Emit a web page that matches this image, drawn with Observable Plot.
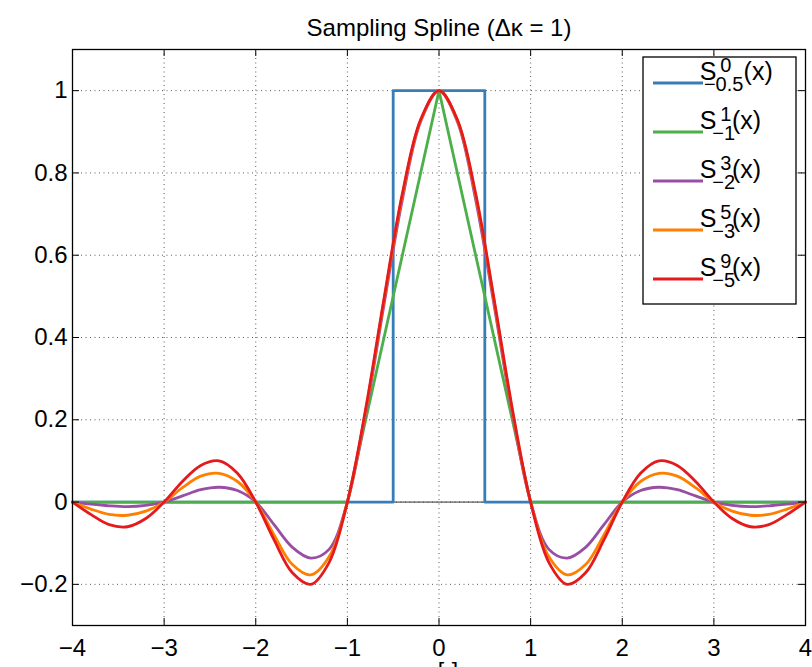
<!DOCTYPE html>
<html><head><meta charset="utf-8">
<script src="https://cdn.jsdelivr.net/npm/d3@7"></script>
<script src="https://cdn.jsdelivr.net/npm/@observablehq/plot@0.6"></script>
<style>
body{margin:0;background:#fff;overflow:hidden}
svg{font-family:"Liberation Sans",Arial,Helvetica,sans-serif}
</style>
</head><body><div id="chart"></div>
<script>
// ---- data ----
const titleText = "Sampling Spline (\u0394\u03BA = 1)";
const xLabelText = "x [-]";
const xTicks = [-4,-3,-2,-1,0,1,2,3,4];
const xTickLabels = ["\u22124","\u22123","\u22122","\u22121","0","1","2","3","4"];
const yTicks = [-0.2,0,0.2,0.4,0.6,0.8,1];
const yTickLabels = ["\u22120.2","0","0.2","0.4","0.6","0.8","1"];

const boxX = [-4,-0.5,-0.5,0.5,0.5,4];
const boxY = [0,0,1,1,0,0];
const hatX = [-4,-1,0,1,4];
const hatY = [0,0,1,0,0];

const sx = [-4.0,-3.8,-3.6,-3.4,-3.2,-3.0,-2.8,-2.6,-2.4,-2.2,-2.0,-1.8,-1.6,-1.4,-1.2,-1.0,-0.8,-0.6,-0.4,-0.2,
            0,0.2,0.4,0.6,0.8,1.0,1.2,1.4,1.6,1.8,2.0,2.2,2.4,2.6,2.8,3.0,3.2,3.4,3.6,3.8,4.0];
const s3 = [0,-0.005,-0.009,-0.011,-0.008,0,0.015,0.03,0.036,0.028,0,-0.055,-0.11,-0.136,-0.115,0,0.215,0.48,0.735,0.925,
            1,0.925,0.735,0.48,0.215,0,-0.115,-0.136,-0.11,-0.055,0,0.028,0.036,0.03,0.015,0,-0.008,-0.011,-0.009,-0.005,0];
const s5 = [0,-0.017,-0.03,-0.032,-0.022,0,0.035,0.063,0.07,0.05,0,-0.08,-0.152,-0.177,-0.133,0,0.222,0.49,0.745,0.928,
            1,0.928,0.745,0.49,0.222,0,-0.133,-0.177,-0.152,-0.08,0,0.05,0.07,0.063,0.035,0,-0.022,-0.032,-0.03,-0.017,0];
const s9 = [0,-0.03,-0.055,-0.06,-0.04,0,0.05,0.089,0.1,0.07,0,-0.092,-0.172,-0.2,-0.147,0,0.227,0.495,0.75,0.93,
            1,0.93,0.75,0.495,0.227,0,-0.147,-0.2,-0.172,-0.092,0,0.07,0.1,0.089,0.05,0,-0.04,-0.06,-0.055,-0.03,0];

const seriesNames = ["S0","S1","S3","S5","S9"];
const seriesColors = ["#377eb8","#4daf4a","#984ea3","#ff7f00","#e41a1c"];
const legendSup = ["0","1","3","5","9"];
const legendSub = ["\u22120.5","\u22121","\u22122","\u22123","\u22125"];

// ---- build tables ----
const toRows = (xa, ya, name) => xa.map((x, i) => ({x, y: ya[i], name}));
const rows0 = toRows(boxX, boxY, "S0");
const rows1 = toRows(hatX, hatY, "S1");
const rows3 = toRows(sx, s3, "S3");
const rows5 = toRows(sx, s5, "S5");
const rows9 = toRows(sx, s9, "S9");

const W = 812, H = 667, mT = 49, mB = 42, mL = 72, mR = 7;
const plotH = H - mT - mB, plotW = W - mL - mR;
const tickLen = 7;
const xFmt = new Map(xTicks.map((d, i) => [d, xTickLabels[i]]));
const yFmt = new Map(yTicks.map((d, i) => [d, yTickLabels[i]]));
const gridDash = {stroke: "#000", strokeOpacity: 0.65, strokeDasharray: "1,3.5", strokeWidth: 1};
const lineOpts = {x: "x", y: "y", stroke: "name", strokeWidth: 2.8};

const chart = Plot.plot({
  width: W, height: H,
  marginTop: mT, marginBottom: mB, marginLeft: mL, marginRight: mR,
  style: {fontFamily: '"Liberation Sans", Arial, sans-serif', background: "#fff"},
  x: {domain: [-4, 4], label: null},
  y: {domain: [-0.3, 1.1], label: null},
  color: {domain: seriesNames, range: seriesColors},
  marks: [
    Plot.gridX(xTicks.slice(1, -1), gridDash),
    Plot.gridY(yTicks, gridDash),
    Plot.ruleY([0], {stroke: "#333", strokeWidth: 1}),
    Plot.line(rows0, lineOpts),
    Plot.line(rows1, lineOpts),
    Plot.line(rows3, {...lineOpts, curve: "catmull-rom"}),
    Plot.line(rows5, {...lineOpts, curve: "catmull-rom"}),
    Plot.line(rows9, {...lineOpts, curve: "catmull-rom"}),
    Plot.tickX(xTicks, {x: d => d, insetTop: plotH - tickLen, stroke: "#000"}),
    Plot.tickX(xTicks, {x: d => d, insetBottom: plotH - tickLen, stroke: "#000"}),
    Plot.tickY(yTicks, {y: d => d, insetRight: plotW - tickLen, stroke: "#000"}),
    Plot.tickY(yTicks, {y: d => d, insetLeft: plotW - tickLen, stroke: "#000"}),
    Plot.axisX(xTicks, {tickSize: 0, tickPadding: 13, fontSize: 24, tickFormat: d => xFmt.get(d), label: null, fill: "#000"}),
    Plot.axisY(yTicks, {tickSize: 0, tickPadding: 5, fontSize: 24, tickFormat: d => yFmt.get(d), label: null, fill: "#000"}),
    Plot.frame({stroke: "#000", strokeWidth: 1.3}),
    Plot.text([titleText], {frameAnchor: "top", dy: -14, lineAnchor: "bottom", fontSize: 24, fill: "#000"}),
    Plot.text([xLabelText], {frameAnchor: "bottom", dy: 54, lineAnchor: "bottom", fontSize: 23, fill: "#000"})
  ]
});
document.getElementById("chart").append(chart);

// ---- legend (inside plot, top right) ----
const svg = d3.select(chart);
const lg = svg.append("g").attr("font-family", '"Liberation Sans", Arial, sans-serif').attr("fill", "#000");
const box = {x: 643, y: 57, w: 153, h: 247};
lg.append("rect").attr("x", box.x).attr("y", box.y).attr("width", box.w).attr("height", box.h)
  .attr("fill", "#fff").attr("stroke", "#000").attr("stroke-width", 1.3);
seriesNames.forEach((name, i) => {
  const cy = 83 + i * 49;
  lg.append("line").attr("x1", 653).attr("x2", 703).attr("y1", cy).attr("y2", cy)
    .attr("stroke", seriesColors[i]).attr("stroke-width", 3);
  const s = lg.append("text").attr("x", 708).attr("y", cy - 3).attr("font-size", 25).text("S");
  const sxp = 708 + s.node().getComputedTextLength() + 1;
  const sup = lg.append("text").attr("x", sxp).attr("y", cy - 11).attr("font-size", 20).text(legendSup[i]);
  const sub = lg.append("text").attr("x", sxp - 2).attr("y", cy + 8).attr("font-size", 20).text(legendSub[i]);
  const supW = sup.node().getComputedTextLength();
  const subW = sub.node().getComputedTextLength();
  const off = Math.max(supW + 2, subW - 2) - (subW > 30 ? 5 : 0);
  lg.append("text").attr("x", sxp + off).attr("y", cy - 3).attr("font-size", 25).text("(x)");
});
</script>
</body></html>
